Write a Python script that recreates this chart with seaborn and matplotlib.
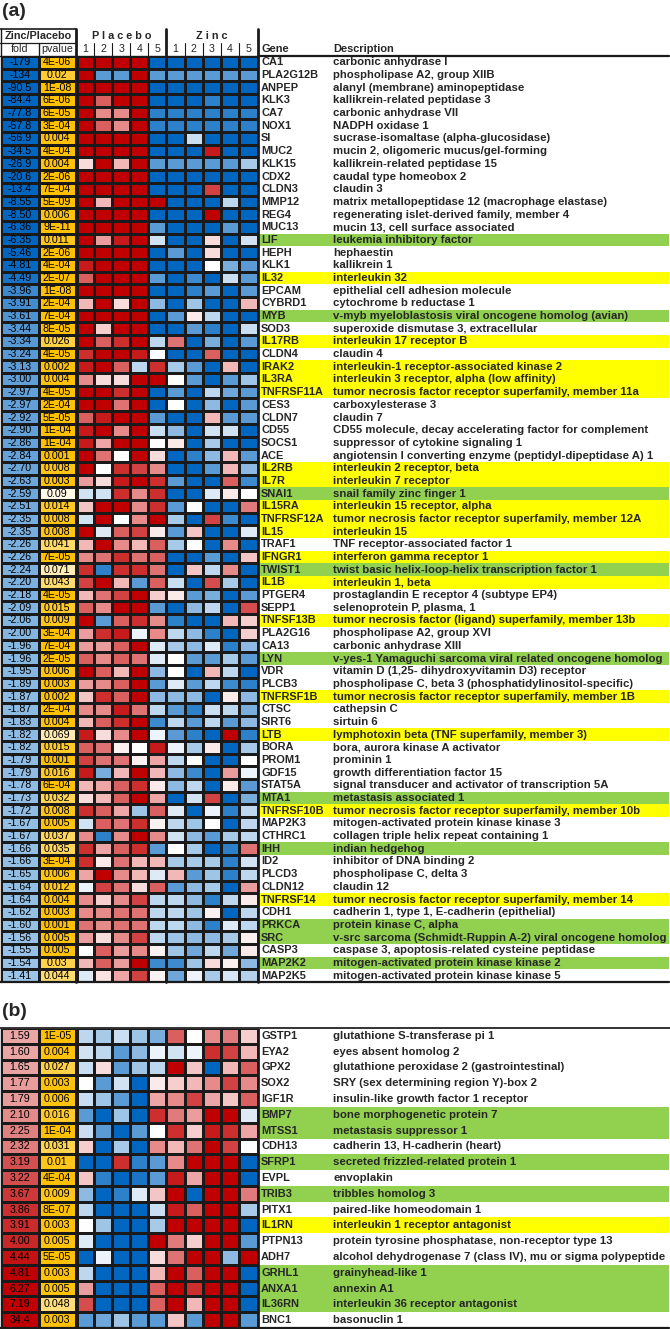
import numpy as np
import matplotlib
matplotlib.use("Agg")
import matplotlib.pyplot as plt
import seaborn as sns
from matplotlib.colors import LinearSegmentedColormap, ListedColormap

# ---------------- data : panel (a) ----------------
genes_a = ["CA1", "PLA2G12B", "ANPEP", "KLK3", "CA7", "NOX1", "SI", "MUC2", "KLK15", "CDX2",
           "CLDN3", "MMP12", "REG4", "MUC13", "LIF", "HEPH", "KLK1", "IL32", "EPCAM", "CYBRD1",
           "MYB", "SOD3", "IL17RB", "CLDN4", "IRAK2", "IL3RA", "TNFRSF11A", "CES3", "CLDN7", "CD55",
           "SOCS1", "ACE", "IL2RB", "IL7R", "SNAI1", "IL15RA", "TNFRSF12A", "IL15", "TRAF1", "IFNGR1",
           "TWIST1", "IL1B", "PTGER4", "SEPP1", "TNFSF13B", "PLA2G16", "CA13", "LYN", "VDR", "PLCB3",
           "TNFRSF1B", "CTSC", "SIRT6", "LTB", "BORA", "PROM1", "GDF15", "STAT5A", "MTA1", "TNFRSF10B",
           "MAP2K3", "CTHRC1", "IHH", "ID2", "PLCD3", "CLDN12", "TNFRSF14", "CDH1", "PRKCA", "SRC",
           "CASP3", "MAP2K2", "MAP2K5"]

desc_a = ["carbonic anhydrase I", "phospholipase A2, group XIIB", "alanyl (membrane) aminopeptidase",
          "kallikrein-related peptidase 3", "carbonic anhydrase VII", "NADPH oxidase 1",
          "sucrase-isomaltase (alpha-glucosidase)", "mucin 2, oligomeric mucus/gel-forming",
          "kallikrein-related peptidase 15", "caudal type homeobox 2", "claudin 3",
          "matrix metallopeptidase 12 (macrophage elastase)", "regenerating islet-derived family, member 4",
          "mucin 13, cell surface associated", "leukemia inhibitory factor", "hephaestin", "kallikrein 1",
          "interleukin 32", "epithelial cell adhesion molecule", "cytochrome b reductase 1",
          "v-myb myeloblastosis viral oncogene homolog (avian)", "superoxide dismutase 3, extracellular",
          "interleukin 17 receptor B", "claudin 4", "interleukin-1 receptor-associated kinase 2",
          "interleukin 3 receptor, alpha (low affinity)", "tumor necrosis factor receptor superfamily, member 11a",
          "carboxylesterase 3", "claudin 7", "CD55 molecule, decay accelerating factor for complement",
          "suppressor of cytokine signaling 1", "angiotensin I converting enzyme (peptidyl-dipeptidase A) 1",
          "interleukin 2 receptor, beta", "interleukin 7 receptor", "snail family zinc finger 1",
          "interleukin 15 receptor, alpha", "tumor necrosis factor receptor superfamily, member 12A",
          "interleukin 15", "TNF receptor-associated factor 1", "interferon gamma receptor 1",
          "twist basic helix-loop-helix transcription factor 1", "interleukin 1, beta",
          "prostaglandin E receptor 4 (subtype EP4)", "selenoprotein P, plasma, 1",
          "tumor necrosis factor (ligand) superfamily, member 13b", "phospholipase A2, group XVI",
          "carbonic anhydrase XIII", "v-yes-1 Yamaguchi sarcoma viral related oncogene homolog",
          "vitamin D (1,25- dihydroxyvitamin D3) receptor", "phospholipase C, beta 3 (phosphatidylinositol-specific)",
          "tumor necrosis factor receptor superfamily, member 1B", "cathepsin C", "sirtuin 6",
          "lymphotoxin beta (TNF superfamily, member 3)", "bora, aurora kinase A activator", "prominin 1",
          "growth differentiation factor 15", "signal transducer and activator of transcription 5A",
          "metastasis associated 1", "tumor necrosis factor receptor superfamily, member 10b",
          "mitogen-activated protein kinase kinase 3", "collagen triple helix repeat containing 1",
          "indian hedgehog", "inhibitor of DNA binding 2", "phospholipase C, delta 3", "claudin 12",
          "tumor necrosis factor receptor superfamily, member 14", "cadherin 1, type 1, E-cadherin (epithelial)",
          "protein kinase C, alpha", "v-src sarcoma (Schmidt-Ruppin A-2) viral oncogene homolog",
          "caspase 3, apoptosis-related cysteine peptidase", "mitogen-activated protein kinase kinase 2",
          "mitogen-activated protein kinase kinase 5"]

fold_a = ["-179", "-134", "-90.5", "-84.4", "-77.8", "-57.8", "-56.9", "-34.5", "-26.9", "-20.6",
          "-13.4", "-8.55", "-8.50", "-6.36", "-6.35", "-5.46", "-4.81", "-4.49", "-3.96", "-3.91",
          "-3.61", "-3.44", "-3.34", "-3.24", "-3.13", "-3.00", "-2.97", "-2.97", "-2.92", "-2.90",
          "-2.86", "-2.84", "-2.70", "-2.63", "-2.59", "-2.51", "-2.35", "-2.35", "-2.26", "-2.26",
          "-2.24", "-2.20", "-2.18", "-2.09", "-2.06", "-2.00", "-1.96", "-1.96", "-1.95", "-1.89",
          "-1.87", "-1.87", "-1.83", "-1.82", "-1.82", "-1.79", "-1.79", "-1.78", "-1.73", "-1.72",
          "-1.67", "-1.67", "-1.66", "-1.66", "-1.65", "-1.64", "-1.64", "-1.62", "-1.60", "-1.56",
          "-1.55", "-1.54", "-1.41"]

pval_a = ["4E-06", "0.02", "1E-08", "6E-06", "6E-05", "3E-04", "0.004", "4E-04", "0.004", "2E-06",
          "7E-04", "5E-09", "0.006", "9E-11", "0.011", "2E-06", "4E-04", "2E-07", "1E-08", "2E-04",
          "7E-04", "8E-05", "0.026", "4E-05", "0.002", "0.004", "4E-05", "2E-04", "5E-05", "1E-04",
          "1E-04", "0.001", "0.008", "0.003", "0.09", "0.014", "0.008", "0.008", "0.041", "7E-05",
          "0.071", "0.043", "4E-05", "0.015", "0.009", "3E-04", "7E-04", "2E-05", "0.006", "0.003",
          "0.002", "2E-04", "0.004", "0.069", "0.015", "0.001", "0.016", "6E-04", "0.032", "0.008",
          "0.005", "0.037", "0.035", "3E-04", "0.006", "0.012", "0.004", "0.003", "0.001", "0.005",
          "0.005", "0.03", "0.044"]

# highlight category: "" none, "Y" yellow (immune), "G" green
hl_a = ["", "", "", "", "", "", "", "", "", "",
        "", "", "", "", "G", "", "", "Y", "", "",
        "G", "", "Y", "", "Y", "Y", "Y", "", "", "",
        "", "", "Y", "Y", "G", "Y", "Y", "Y", "", "Y",
        "G", "Y", "", "", "Y", "", "", "G", "", "",
        "Y", "", "", "Y", "", "", "", "", "G", "Y",
        "", "", "G", "", "", "", "Y", "", "G", "G",
        "", "G", ""]

placebo_a = [
    [3, 3, 3, 3, -3], [3, -2, -2, 3, -2], [3, 3, 3, 3, -3], [3, 2, 3, 3, -3], [3, 1.5, 1.5, 3, -2.5],
    [3, 2, 1.5, 3, -2.5], [3, 3, 3, 3, -3], [3, 3, 3, 3, -3], [0.5, 3, 1, 3, -2], [3, 3, 3, 3, -3],
    [3, 3, 3, 3, -3], [3, 1, 3, 3, 3], [3, 3, 3, 3, -3], [3, 3, 3, 3, -2], [3, 1.3, 2.7, 3, -0.7],
    [3, 3, 3, 3, -3], [2.7, 3, 3, 3, -3], [2, 3, 3, 3, -2], [3, 3, 3, 3, -3], [1, 3, 0.5, 3, -1.5],
    [3, 3, 3, 3, -3], [3, 0.7, 3, 3, -3], [3, 2, 2.5, 3, -1], [2.5, 3, 3, 2.7, 0], [2.7, 3, 2, -1, 2.5],
    [1.5, 0.5, 0.5, 3, 3], [3, 3, 2.5, 3, -3], [3, 3, 1.8, 3, -3], [2, 2.7, 3, 3, -2], [2.7, 3, 1.5, 3, -0.8],
    [2.7, 1.2, 3, 3, 0], [3, 1.8, 0, 3, 0.5], [3, 0, 2.5, 2.3, 1.5], [1.3, 0.5, 2.7, 3, 2.5], [-0.7, -0.7, 2.5, 1.5, 2.5],
    [0.8, 3, 3, 1.5, 2.5], [-0.7, 3, 0, 1.5, 3], [3, -0.5, 2, 2.3, 0.3], [1, 3, 1.5, 1, 2], [1.5, 1.8, 2.5, 1.8, 2],
    [2.5, -2.5, 2.5, 2.5, 1.8], [2.3, 3, 1, -2, 2], [1, 1.8, 2.3, 3, 0.7], [2, 1.5, 3, 3, -2], [3, -2, 2, 2.5, 1.5],
    [1.3, 2.5, 2.7, -0.3, 1.5], [1.3, 1.3, 2, 3, -0.5], [2, 1.5, 2, 1.8, -0.5], [3, 2, 1, 3, -1.5], [1.3, 1.5, 2, 3, -2],
    [0.8, 2.5, 2, 3, -1.5], [1.5, 1.5, 2.7, 1.8, -1], [1, 2, 2.5, 3, -2.3], [2.7, 0.5, 1.5, 3, -0.3], [2, 1.8, 0.2, 0, 2.7],
    [2.3, 1.8, 1.8, 0.2, 1.2], [2.7, -1.7, 1, 3, 1], [1, 1.2, 2, 2.5, 0.3], [0.5, 1, 2, 3, 1.2], [2.5, 2, 1.2, -1.3, 2],
    [-0.7, 2, 1.8, 2.5, 0.2], [1.5, -2.5, 1.5, 3, 1.5], [2.5, 1.2, 2, 2.5, -2], [2.5, 0.3, 1.8, 1, 1], [1.2, 3, 1.5, 1, -0.5],
    [-0.3, 2.3, 1.8, 0.5, 2], [1.5, 0.7, 1.5, 2.3, -1], [1.5, 1.5, 1.8, 1.8, -1], [1.8, 1.5, 1.8, 1.8, -1], [1.3, 0.5, 1.5, 2.3, -1],
    [0, 2, 1.3, 1.5, 0.2], [1, 2, 1.3, 3, -2.3], [-0.5, 0.4, 1.2, 2.3, 0.2],
]

zinc_a = [
    [-3, -3, -3, -3, -3], [-2, -2, -2, -2, -2], [-3, -3, -3, -3, -3], [-3, -3, -2.5, -3, -3], [-2.5, -2.5, -2.5, -2.5, -2.5],
    [-2.5, -2.5, -2.5, -2.5, -2.5], [-3, -0.8, -3, -3, -3], [-3, -3, 2.7, -3, -3], [-2, -2, -2, -2, -1.2], [-3, -3, -3, -3, -3],
    [-3, -3, 2.3, -3, -3], [-3, -3, -3, -1, -3], [-3, -3, 3, -3, -3], [-3, -3, -3, -2, -3], [-3, -3, 0.5, -3, -0.7],
    [-2, -3, 0.5, -3, -3], [-3, -3, 0, -1.7, -2], [-3, -2.3, -3, -0.8, -2], [-3, -2.5, -2, -3, -2], [-3, -1.3, -3, -3, 1],
    [-2, 0.3, -1, -3, -3], [-3, -2, -2.5, -3, -0.8], [1.8, -3, -1.7, -3, -2], [-3, -3, 2, -3, -3], [-1.2, -2, -3, 1, -3],
    [0, -2, -3, -2, -1.3], [-2, -3, -1, -1.8, -2], [0, -3, -1.5, -3, -2], [-3, -3, 1, -2, -2], [-1.5, -3, -0.7, -0.7, -3],
    [0.3, -3, -1.2, -3, -3], [-3, -2.5, -1.5, 1, -2], [-3, -3, -2, 1, -1.5], [-2, -3, -3, 2, -2.3], [-3, -3, -0.5, 0.3, 0],
    [-2, 0, -3, -3, 1.7], [-1.2, -3, 2.3, -2.3, -3], [-2, 0.8, -3, -3, -0.5], [-1.2, 0, -3, 1.5, -3], [-3, -3, -2, -3, 0.8],
    [-3, 0.8, -1, 1.5, -3], [-0.8, -3, 2.2, -1.2, -3], [0.3, -2, -1.7, -3, -2], [-3, -1.5, -1, -3, 2.2], [-2.5, -3, -3, 1, 0.7],
    [-1, -1.5, -2.5, -3, 0.7], [-1.2, -1.5, -0.5, -2.5, -1.5], [0, -2, -2, -1.2, -2], [0, -3, 1, -1, -3], [-0.5, -2, -1, -2.3, -2.5],
    [-1.5, -1.5, -3, 0.3, -1.5], [-2, -2.5, -0.8, -1, -1.7], [-1, -2, -1, -2, -1.5], [-2, -2.5, -3, 3, -2.5], [-0.3, -1.2, 0.3, -3, -1.2],
    [-1, 0, -3, -3, 0], [-1.5, -2.3, -3, 1.3, -0.3], [-1.5, -1, -3, 0.3, -2], [-3, -0.7, 2.3, -3, -1.7], [-0.5, -3, -0.3, -2.5, -1],
    [-1, -1.3, 0, -3, -1], [-0.7, -1.5, -2, -1.2, -1], [0, -1.2, -3, -2.5, 1.8], [-1.2, -1.2, -1.2, -2.5, -0.7], [1, -2, -1.3, -2.5, -1],
    [-2, -1.5, -1.2, -3, 1.3], [-1, -1.5, -2.5, -1, 0.3], [-1, -1.3, 0.2, -3, -1], [-1, -1.5, -2.5, -0.5, -1], [-1.3, -1.5, -1.5, -1.2, 0.2],
    [-1.3, -1.8, -1, -1.8, 0.3], [-2.3, -1.3, 0.5, 0.2, -1.5], [-1.8, -0.3, -1.2, -0.6, -1.1],
]

# ---------------- data : panel (b) ----------------
genes_b = ["GSTP1", "EYA2", "GPX2", "SOX2", "IGF1R", "BMP7", "MTSS1", "CDH13", "SFRP1", "EVPL",
           "TRIB3", "PITX1", "IL1RN", "PTPN13", "ADH7", "GRHL1", "ANXA1", "IL36RN", "BNC1"]
desc_b = ["glutathione S-transferase pi 1", "eyes absent homolog 2", "glutathione peroxidase 2 (gastrointestinal)",
          "SRY (sex determining region Y)-box 2", "insulin-like growth factor 1 receptor",
          "bone morphogenetic protein 7", "metastasis suppressor 1", "cadherin 13, H-cadherin (heart)",
          "secreted frizzled-related protein 1", "envoplakin", "tribbles homolog 3", "paired-like homeodomain 1",
          "interleukin 1 receptor antagonist", "protein tyrosine phosphatase, non-receptor type 13",
          "alcohol dehydrogenase 7 (class IV), mu or sigma polypeptide", "grainyhead-like 1", "annexin A1",
          "interleukin 36 receptor antagonist", "basonuclin 1"]
fold_b = ["1.59", "1.60", "1.65", "1.77", "1.79", "2.10", "2.25", "2.32", "3.19", "3.22",
          "3.67", "3.86", "3.91", "4.00", "4.44", "4.81", "6.27", "7.19", "34.4"]
pval_b = ["1E-05", "0.004", "0.027", "0.003", "0.006", "0.016", "1E-04", "0.031", "0.01", "4E-04",
          "0.009", "8E-07", "0.003", "0.005", "5E-05", "0.003", "0.005", "0.048", "0.003"]
hl_b = ["", "", "", "", "", "G", "G", "", "G", "", "G", "", "Y", "", "", "G", "G", "G", ""]

placebo_b = [
    [-1, -1.2, -0.8, -1.3, -1.7], [-0.7, -1, -2, -1.5, -0.3], [-0.8, 0.5, -2, -1.3, -1], [0, -2, -0.7, -3, 0.3],
    [-0.8, -1.3, -2, -3, 1.2], [-2, -3, -1.3, -3, 2.5], [-0.8, -2, -3, -2, 0], [0.7, -3, -1.2, -3, 1.5],
    [-3, -3, 2.5, -2.5, -2], [0.8, -2.5, -3, -2.7, -2], [-1.5, -3, -2.5, -0.5, 0.8], [-1, -3, -3, -3, -0.8],
    [0, -1.3, -3, -3, -1.2], [-0.5, -3, -3, -3, 3], [-3, -0.3, -3, -3, 0.5], [-1, -3, -3, -3, 1],
    [1.3, -3, -3, -3, 2], [2.2, -3, -3, -3, 2], [-2, -1.8, -1.3, -2, -2],
]
zinc_b = [
    [2, 0, 1.5, 1.7, 0.7], [-0.7, -0.3, 2.5, 2.3, 1], [3, 0.8, -3, 1, 2], [0.7, 1, 1.5, 2.3, 1.5],
    [1.5, 2.3, 1.2, 0.8, 2], [1.7, 1.3, 3, 3, -0.5], [2.5, 0.7, 2.7, 2.5, 1.2], [1, 1.8, 3, 2.3, 0],
    [1.5, 3, 3, 3, -3], [2.7, 1.2, 3, 3, -3], [3, -3, 3, 3, 1.7], [2.7, 2, 3, 3, -1.2],
    [3, 3, 3, 3, -3], [1.7, 0.7, 3, 3, -2], [1.8, 3, 3, -1.5, 3], [3, 2, 3, 3, -3],
    [3, 2.5, 3, 3, -3], [3, 1, 3, 3, -3], [0.8, -2, 3, 3, -2],
]

# ---------------- styling ----------------
sns.set_theme(style="white")
plt.rcParams['font.family'] = ['Liberation Sans', 'DejaVu Sans']

W, H = 670, 1329
fig = plt.figure(figsize=(W / 100, H / 100), dpi=100)

cell_cmap = LinearSegmentedColormap.from_list(
    "cells", ["#0066C0", "#5B9BD5", "#BDD7EE", "#FFFFFF", "#F2B8B8", "#DA6060", "#C00000"])
fold_cmap = LinearSegmentedColormap.from_list(
    "fold", [(0.0, "#0066C0"), (0.075, "#1E78C8"), (0.15, "#4A90D0"), (0.3, "#68A4DA"),
             (0.499, "#A2C8E9"), (0.501, "#EDAFAF"), (0.75, "#D45555"), (1.0, "#C00000")])
p_cmap = LinearSegmentedColormap.from_list("pv", ["#FFC000", "#FFFFFF"])
hl_cmap = ListedColormap(["#FFFFFF", "#FFFF00", "#92D050"])
LINE = "#1a1a1a"

X_FOLD = (1.0, 38.5)
X_PV = (38.5, 75.5)
X_PLA = (76.5, 166.3)
X_ZN = (166.3, 257.5)
X_GENE = (258.0, 669.0)

FS_NUM = 7.7
FS_GENE = 7.9
FS_DESC = 8.2


def add_ax(x0, y0, x1, y1):
    return fig.add_axes([x0 / W, 1 - y1 / H, (x1 - x0) / W, (y1 - y0) / H])


def fold_shade(s):
    f = float(s)
    t = np.clip((abs(f) - 1.4) / 3.5, 0, 1) if f < 0 else np.clip((f - 1.5) / 3.3, 0, 1)
    return np.sign(f) * (0.03 + 0.97 * t)


def hm(ax, data, cmap, vmin, vmax, annot=None, fs=FS_NUM, lw=0.8):
    kw = dict(cmap=cmap, vmin=vmin, vmax=vmax, cbar=False, linewidths=lw, linecolor=LINE,
              xticklabels=False, yticklabels=False, ax=ax)
    if annot is not None:
        kw.update(annot=annot, fmt="", annot_kws={"fontsize": fs, "color": "black"})
    sns.heatmap(data, **kw)
    ax.set_xlabel("")
    ax.set_ylabel("")


def block(y0, y1, genes, desc, fold, pval, hl, plac, zinc):
    fold_v = np.array([fold_shade(s) for s in fold]).reshape(-1, 1)
    hm(add_ax(X_FOLD[0], y0, X_FOLD[1], y1), fold_v, fold_cmap, -1, 1,
       annot=np.array(fold).reshape(-1, 1))
    pv = np.array([float(p) for p in pval]).reshape(-1, 1)
    hm(add_ax(X_PV[0], y0, X_PV[1], y1), pv, p_cmap, 0, 0.1,
       annot=np.array(pval).reshape(-1, 1))
    hm(add_ax(X_PLA[0], y0, X_PLA[1], y1), np.array(plac), cell_cmap, -3, 3)
    hm(add_ax(X_ZN[0], y0, X_ZN[1], y1), np.array(zinc), cell_cmap, -3, 3)
    codes = np.array([{"": 0, "Y": 1, "G": 2}[c] for c in hl]).reshape(-1, 1)
    hm(add_ax(X_GENE[0], y0, X_GENE[1], y1), codes, hl_cmap, -0.5, 2.5, lw=0)


# panel (a)
YA0, YA1 = 56.0, 982.0
block(YA0, YA1, genes_a, desc_a, fold_a, pval_a, hl_a, placebo_a, zinc_a)
# panel (b)
YB0, YB1 = 1028.0, 1328.0
block(YB0, YB1, genes_b, desc_b, fold_b, pval_b, hl_b, placebo_b, zinc_b)

# ---------------- overlay: texts and rules ----------------
ov = fig.add_axes([0, 0, 1, 1])
ov.set_xlim(0, W)
ov.set_ylim(H, 0)
ov.axis("off")
ov.patch.set_alpha(0)


def texts(y0, y1, genes, desc, fsg, fsd):
    h = (y1 - y0) / len(genes)
    for i, (g, d) in enumerate(zip(genes, desc)):
        yc = y0 + (i + 0.5) * h
        ov.text(261, yc, g, fontsize=fsg, fontweight="bold", va="center", ha="left")
        ov.text(333, yc, d, fontsize=fsd, fontweight="bold", va="center", ha="left")


texts(YA0, YA1, genes_a, desc_a, FS_GENE, FS_DESC)
texts(YB0, YB1, genes_b, desc_b, FS_GENE, FS_DESC)

# labels
ov.text(2, 12, "(a)", fontsize=14, fontweight="bold", va="center", ha="left")
ov.text(2, 1012, "(b)", fontsize=14, fontweight="bold", va="center", ha="left")

# header of (a)
HY0, HY1, HY2 = 29.0, 42.5, 56.0
FS_H = 7.8
ov.text(38, (HY0 + HY1) / 2, "Zinc/Placebo", fontsize=FS_H, fontweight="bold", ha="center", va="center")
ov.text(121.4, (HY0 + HY1) / 2, "P l a c e b o", fontsize=FS_H, fontweight="bold", ha="center", va="center")
ov.text(212, (HY0 + HY1) / 2, "Z i n c", fontsize=FS_H, fontweight="bold", ha="center", va="center")
ov.text(np.mean(X_FOLD), (HY1 + HY2) / 2, "fold", fontsize=FS_NUM, ha="center", va="center")
ov.text(np.mean(X_PV), (HY1 + HY2) / 2, "pvalue", fontsize=FS_NUM, ha="center", va="center")
for (x0, x1) in (X_PLA, X_ZN):
    w = (x1 - x0) / 5
    for k in range(5):
        ov.text(x0 + (k + 0.5) * w, (HY1 + HY2) / 2, str(k + 1), fontsize=FS_NUM, ha="center", va="center")
        if k > 0:
            ov.plot([x0 + k * w] * 2, [HY1, HY2], color=LINE, lw=0.8)
ov.text(261, (HY1 + HY2) / 2, "Gene", fontsize=FS_GENE, fontweight="bold", ha="left", va="center")
ov.text(333, (HY1 + HY2) / 2, "Description", fontsize=FS_GENE, fontweight="bold", ha="left", va="center")

ov.plot([0, 75.5], [HY0, HY0], color=LINE, lw=1.2)
ov.plot([0, 75.5], [HY1, HY1], color=LINE, lw=0.9)
ov.plot([X_PV[0]] * 2, [HY1, HY2], color=LINE, lw=0.9)
ov.plot([0, 258], [HY2, HY2], color=LINE, lw=1.0)
ov.plot([258, 669], [HY2 - 0.5, HY2 - 0.5], color=LINE, lw=1.6)

# vertical rules and outlines
for (ya, yb) in ((HY0, YA1), (YB0, YB1)):
    ov.plot([0.8, 0.8], [ya, yb], color=LINE, lw=1.0)
    ov.plot([X_FOLD[1]] * 2, [HY1 if ya == HY0 else ya, yb], color=LINE, lw=0.8)
    for xv in (76.0, 166.3, 258.0):
        ov.plot([xv, xv], [ya, yb], color=LINE, lw=2.0)
ov.plot([0, 669], [YA1, YA1], color=LINE, lw=1.6)
ov.plot([0, 670], [YB0, YB0], color="#333333", lw=1.4)
ov.plot([0, 669], [YB1, YB1], color=LINE, lw=1.6)

fig.savefig("out.png", dpi=100)
